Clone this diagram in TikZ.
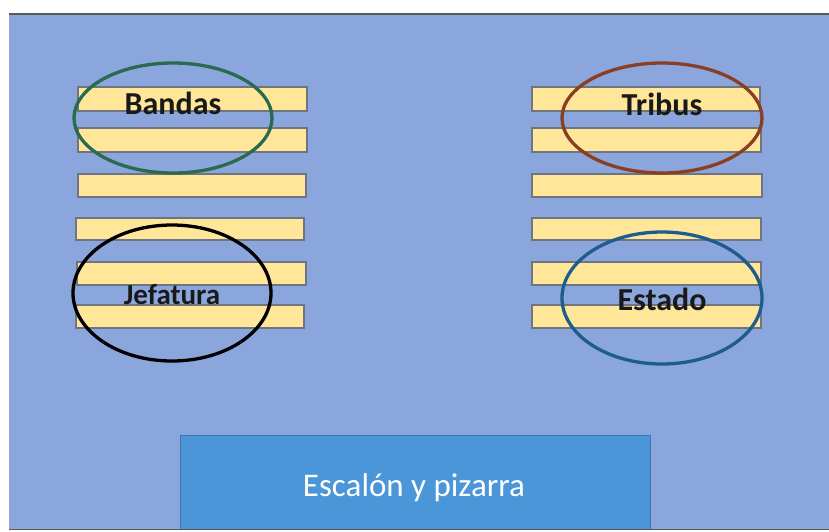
\documentclass[tikz,border=0pt]{standalone}
\usepackage{fontspec}
\setmainfont{Carlito}
\usetikzlibrary{shapes.geometric}
\definecolor{bgblue}{HTML}{8BA5DD}
\definecolor{boxblue}{HTML}{4A96D8}
\definecolor{barfill}{HTML}{FFE699}
\definecolor{bargray}{HTML}{6F7580}
\definecolor{cgreen}{HTML}{2A6A4E}
\definecolor{cbrown}{HTML}{8A3E22}
\definecolor{cblue}{HTML}{1F5C8E}
\tikzset{
  bar/.style={draw=bargray, line width=1.5pt, fill=barfill},
  ring/.style={line width=3.3pt},
  lab/.style={font=\bfseries\fontsize{32}{36}\selectfont, text=black!90},
}
\begin{document}
\begin{tikzpicture}[x=1pt,y=-1pt]
\useasboundingbox (0,0) rectangle (829,531);
\fill[white] (0,0) rectangle (829,531);
\fill[bgblue] (9,14) rectangle (829,529);
\draw[gray!70!black, line width=2pt] (9,14) -- (829,14);
\draw[gray!70!black, line width=1.2pt] (9,529.5) -- (829,529.5);
% left bars
\path[bar] (78,87) rectangle (307,111);
\path[bar] (78,128) rectangle (307,152);
\path[bar] (78,174) rectangle (306,197);
\path[bar] (76,218) rectangle (304,240);
\path[bar] (77,262) rectangle (306,285);
\path[bar] (76,305) rectangle (304,328);
% right bars
\path[bar] (532,87) rectangle (760,111);
\path[bar] (532,128) rectangle (761,152);
\path[bar] (532,174) rectangle (762,197);
\path[bar] (532,218) rectangle (761,240);
\path[bar] (532,262) rectangle (761,285);
\path[bar] (532,305) rectangle (761,328);
% labels
\node[lab] (bandas) at (173,103) {Bandas};
\node[lab] (tribus) at (662,104) {Tribus};
\node[lab, font=\bfseries\fontsize{29}{33}\selectfont] (jefatura) at (172,295) {Jefatura};
\node[lab] (estado) at (662,299) {Estado};
% ellipses
\draw[ring, cgreen] (173,118) ellipse [x radius=99, y radius=55];
\draw[ring, cbrown] (662,118) ellipse [x radius=100, y radius=55];
\draw[ring, black] (172,293) ellipse [x radius=99, y radius=68];
\draw[ring, cblue] (662,298) ellipse [x radius=100, y radius=66];
% bottom box
\fill[boxblue] (180,435) rectangle (650,529);
\draw[boxblue!80!black, line width=1pt] (180,529) -- (180,435) -- (650,435) -- (650,529);
\node[text=white, font=\fontsize{33}{38}\selectfont] (esc) at (414,488) {Escalón y pizarra};
\end{tikzpicture}
\end{document}
